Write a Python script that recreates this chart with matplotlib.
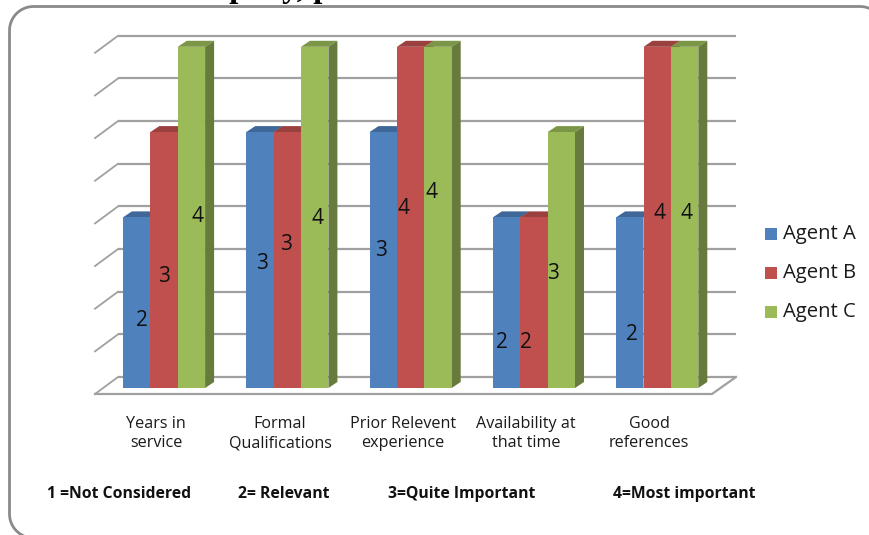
import matplotlib
matplotlib.use("Agg")
import matplotlib.pyplot as plt
import numpy as np
from matplotlib.patches import Polygon, Rectangle

plt.rcParams["font.family"] = ["Open Sans", "DejaVu Sans"]

# Ratings per hiring criterion for each agent
categories = ["Years in\nservice", "Formal\nQualifications", "Prior Relevent\nexperience",
              "Availability at\nthat time", "Good\nreferences"]
agents = ["Agent A", "Agent B", "Agent C"]
agent_a = [2, 3, 3, 2, 2]
agent_b = [3, 3, 4, 2, 4]
agent_c = [4, 4, 4, 3, 4]
series = [agent_a, agent_b, agent_c]
key_labels = ["1 =Not Considered", "2= Relevant", "3=Quite Important", "4=Most important"]

front_colors = ["#4f81bd", "#c0504d", "#9bbb59"]
top_colors = ["#3f6797", "#9a403e", "#7c9647"]
side_colors = ["#3a5f8c", "#8e3b39", "#677b3c"]

# Hand-placed number labels on the bars, in pixels, one row per criterion
label_xy = [[(142, 320.5), (164, 276.5), (197, 216.5)],
            [(262, 263.5), (286, 244.5), (317, 218.5)],
            [(381, 250.5), (404, 208.5), (432, 192.5)],
            [(502, 342.5), (526, 342.5), (553, 273.5)],
            [(632, 334.5), (660, 213.5), (687, 213.5)]]
category_x = [156, 280, 403, 526, 649]
key_x = [47, 238, 388, 613]

W, H = 869, 535
GROUP_PX, UNIT_PX, ORIGIN_X, ORIGIN_Y = 123.3, 85.3, 164.0, 388.0
BAR = 27.4 / GROUP_PX
DX, DY = 9 / GROUP_PX, 6 / UNIT_PX

fig = plt.figure(figsize=(W / 100, H / 100), dpi=100)
ax = fig.add_axes([0, 0, 1, 1])
ax.set_xlim(-ORIGIN_X / GROUP_PX, (W - ORIGIN_X) / GROUP_PX)
ax.set_ylim((ORIGIN_Y - H) / UNIT_PX, ORIGIN_Y / UNIT_PX)
ax.axis("off")


def px(x, y):
    """Pixel position to data coordinates, for chart furniture."""
    return (x - ORIGIN_X) / GROUP_PX, (ORIGIN_Y - y) / UNIT_PX


# Rounded chart border; its right and bottom edges run past the canvas
left, top, right, bottom = 9.5, 6.5, 884.0, 538.0
r = 24
outline = []
for cx, cy, a0 in [(left + r, top + r, 180), (right - r, top + r, 270),
                   (right - r, bottom - r, 0), (left + r, bottom - r, 90)]:
    for t in np.radians(np.linspace(a0, a0 + 90, 16)):
        outline.append(px(cx + r * np.cos(t), cy + r * np.sin(t)))
ax.add_patch(Polygon(outline, closed=True, fill=False, edgecolor="#8a8a8a", linewidth=2.0, zorder=1))

# Back wall gridlines, side stubs and floor outline
grid = "#a0a0a0"
wall_left, wall_right, floor_left, floor_right = 118, 736, 95, 712
for i in range(9):
    y_back = 377 - i * 0.5 * 85.3
    y_front = y_back + 17
    ax.plot(*zip(px(wall_left, y_back), px(wall_right, y_back)), color=grid, lw=1.6, zorder=2, solid_capstyle="butt")
    ax.plot(*zip(px(floor_left, y_front), px(wall_left, y_back)), color=grid, lw=1.3, zorder=2)
ax.plot(*zip(px(floor_left, 394), px(floor_right, 394), px(wall_right, 377)), color=grid, lw=1.6, zorder=2)

# Bars with their top and side faces
for g in range(len(categories)):
    for s, values in enumerate(series):
        v = values[g]
        x0 = g + (s - 1.5) * BAR
        ax.bar(x0, v, width=BAR, align="edge", color=front_colors[s], zorder=4 + s * 0.1)
        ax.add_patch(Polygon([(x0, v), (x0 + BAR, v), (x0 + BAR + DX, v + DY), (x0 + DX, v + DY)],
                             closed=True, facecolor=top_colors[s], edgecolor="none", zorder=3.5 + s * 0.1))
        ax.add_patch(Polygon([(x0 + BAR, 0), (x0 + BAR + DX, DY), (x0 + BAR + DX, v + DY), (x0 + BAR, v)],
                             closed=True, facecolor=side_colors[s], edgecolor="none", zorder=3.5 + s * 0.1))
        ax.text(*px(*label_xy[g][s]), str(v), ha="center", va="center",
                fontsize=15, color="#111111", zorder=6)

# Category names under the floor
for x, name in zip(category_x, categories):
    ax.text(*px(x, 433.5), name, ha="center", va="center",
            fontsize=11.6, color="#1a1a1a", linespacing=1.3, zorder=6)

# Legend, drawn by hand to keep the swatches square and widely spaced
for s, name in enumerate(agents):
    y = 234 + s * 39
    sx, sy = px(765, y + 6)
    ax.add_patch(Rectangle((sx, sy), 12 / GROUP_PX, 12 / UNIT_PX, facecolor=front_colors[s], edgecolor="none", zorder=6))
    ax.text(*px(783, y), name, ha="left", va="center", fontsize=14.6, color="#1a1a1a", zorder=6)

# Rating key along the bottom
for x, label in zip(key_x, key_labels):
    ax.text(*px(x, 494.5), label, ha="left", va="center", fontsize=11.3, fontweight="bold", color="#111111", zorder=6)

# Heading above the chart, cut off by the top edge
ax.text(*px(171, -3), "company, p", ha="left", va="baseline", family="Liberation Serif",
        fontsize=23.6, fontweight="bold", color="black", zorder=6)

fig.savefig("out.png", dpi=100)
